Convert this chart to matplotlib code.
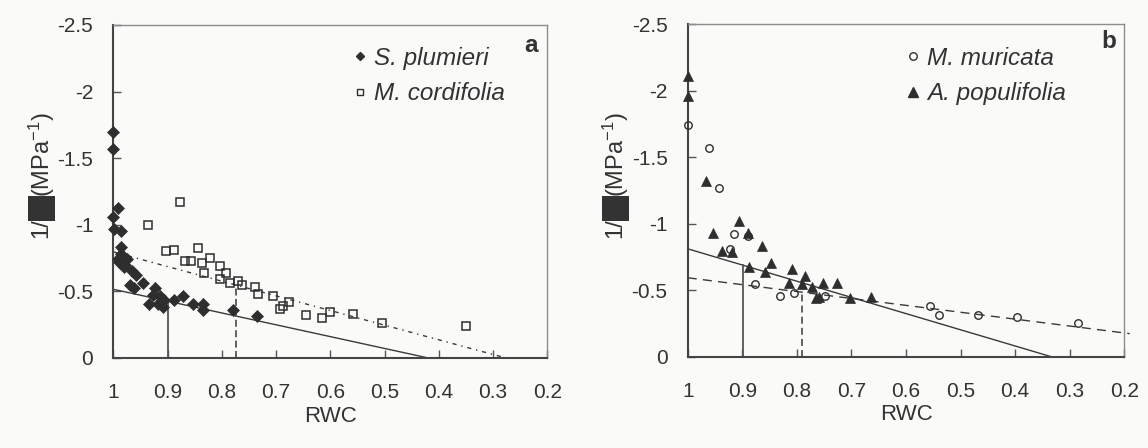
import matplotlib
matplotlib.use("Agg")
import matplotlib.pyplot as plt
from matplotlib.lines import Line2D
from matplotlib.patches import Rectangle

plt.rcParams["font.family"] = ["Liberation Sans", "DejaVu Sans"]
plt.rcParams["mathtext.fontset"] = "custom"
plt.rcParams["mathtext.rm"] = "Liberation Sans"
plt.rcParams["mathtext.it"] = "Liberation Sans:italic"
plt.rcParams["lines.scale_dashes"] = False

# ---- data: relative water content vs. inverse water potential (MPa^-1) ----
sp_rwc = [1.000, 1.000, 0.992, 1.000, 0.998, 0.985, 0.985, 0.985, 0.992, 0.975,
          0.985, 0.980, 0.990, 0.978, 0.966, 0.958, 0.970, 0.962, 0.945, 0.923,
          0.926, 0.914, 0.934, 0.918, 0.908, 0.906, 0.889, 0.872, 0.854, 0.834,
          0.834, 0.780, 0.735]
sp_inv = [-1.694, -1.565, -1.125, -1.055, -0.965, -0.955, -0.834, -0.780, -0.742, -0.745,
          -0.710, -0.685, -0.720, -0.700, -0.651, -0.620, -0.546, -0.520, -0.565, -0.520,
          -0.470, -0.460, -0.403, -0.400, -0.380, -0.430, -0.430, -0.460, -0.400, -0.400,
          -0.360, -0.358, -0.313]

mc_rwc = [0.936, 0.877, 0.902, 0.888, 0.844, 0.867, 0.857, 0.836, 0.822, 0.833,
          0.803, 0.792, 0.803, 0.784, 0.770, 0.762, 0.739, 0.734, 0.706, 0.693,
          0.687, 0.676, 0.645, 0.615, 0.600, 0.558, 0.504, 0.350]
mc_inv = [-1.000, -1.170, -0.800, -0.810, -0.826, -0.727, -0.727, -0.714, -0.747, -0.634,
          -0.689, -0.634, -0.590, -0.564, -0.574, -0.546, -0.533, -0.480, -0.466, -0.363,
          -0.390, -0.420, -0.323, -0.298, -0.340, -0.330, -0.263, -0.240]

mm_rwc = [1.000, 0.961, 0.942, 0.915, 0.889, 0.922, 0.877, 0.831, 0.806, 0.749,
          0.556, 0.540, 0.468, 0.396, 0.285]
mm_inv = [-1.742, -1.574, -1.268, -0.920, -0.907, -0.810, -0.549, -0.459, -0.481, -0.459,
          -0.381, -0.313, -0.313, -0.301, -0.256]

ap_rwc = [1.000, 1.000, 0.966, 0.953, 0.937, 0.918, 0.906, 0.889, 0.887, 0.864,
          0.848, 0.858, 0.809, 0.814, 0.785, 0.790, 0.772, 0.752, 0.727, 0.765,
          0.760, 0.703, 0.665]
ap_inv = [-2.110, -1.960, -1.321, -0.932, -0.797, -0.785, -1.023, -0.928, -0.677, -0.832,
          -0.707, -0.639, -0.659, -0.552, -0.609, -0.544, -0.526, -0.552, -0.552, -0.439,
          -0.447, -0.439, -0.447]

# linear fits of the post-turgor-loss region: 1/psi = a + b * RWC, drawn over [x_from, x_to]
fit_sp = dict(a=0.375, b=-0.889, x_from=1.0, x_to=0.422)
fit_mc = dict(a=0.306, b=-1.101, x_from=1.0, x_to=0.278)
fit_ap = dict(a=0.407, b=-1.219, x_from=1.0, x_to=0.334)
fit_mm = dict(a=-0.075, b=-0.519, x_from=1.0, x_to=0.19)

# RWC at turgor loss point
tlp_sp, tlp_mc = 0.90, 0.773
tlp_ap, tlp_mm = 0.898, 0.79

x_ticks = [1, 0.9, 0.8, 0.7, 0.6, 0.5, 0.4, 0.3, 0.2]
x_tick_labels = ["1", "0.9", "0.8", "0.7", "0.6", "0.5", "0.4", "0.3", "0.2"]
y_ticks = [0, -0.5, -1, -1.5, -2, -2.5]
y_tick_labels = ["0", "-0.5", "-1", "-1.5", "-2", "-2.5"]

BG = "#fafaf8"
INK = "#2e2e2e"
LINE = "#3a3a3a"

W, H = 1148, 448
fig = plt.figure(figsize=(W / 100, H / 100), dpi=100, facecolor=BG)


def px_axes(l, r, t, b):
    return [l / W, (H - b) / H, (r - l) / W, (b - t) / H]


ax_a = fig.add_axes(px_axes(113.3, 547.3, 25, 357.7), facecolor=BG)
ax_b = fig.add_axes(px_axes(687.7, 1124.3, 24.5, 356.7), facecolor=BG)


def style_axes(ax):
    ax.set_xlim(1, 0.2)
    ax.set_ylim(0, -2.5)
    ax.set_xticks(x_ticks)
    ax.set_xticklabels(x_tick_labels)
    ax.set_yticks(y_ticks)
    ax.set_yticklabels(y_tick_labels)
    ax.tick_params(axis="both", direction="in", length=5.5, width=1.0,
                   color="#555555", labelcolor="#333333", labelsize=15,
                   top=False, right=False)
    ax.tick_params(axis="x", pad=18.5)
    ax.tick_params(axis="y", pad=14.5)
    for s in ("left", "bottom"):
        ax.spines[s].set_color("#444444")
        ax.spines[s].set_linewidth(1.5)
    for s in ("top", "right"):
        ax.spines[s].set_color("#8c8c8c")
        ax.spines[s].set_linewidth(1.0)
    ax.set_xlabel("RWC", fontsize=16, color="#333333", va="center")
    ax.xaxis.set_label_coords(0.5, -(416 - 357.7) / 332.7)


def draw_fit(ax, fit, **kw):
    xs = [fit["x_from"], fit["x_to"]]
    ys = [fit["a"] + fit["b"] * x for x in xs]
    ax.plot(xs, ys, color=LINE, lw=1.0, clip_on=False, zorder=2, **kw)


def draw_tlp(ax, x, fit, **kw):
    ax.plot([x, x], [0, fit["a"] + fit["b"] * x], color="#555555", lw=1.3, zorder=2, **kw)


def y_label(x_off):
    cx = (x_off + 41.5) / W
    fig.text(cx, (H - 238) / H, "1/", rotation=90, ha="center", va="bottom",
             fontsize=17, color="#333333")
    fig.add_artist(Rectangle(((x_off + 27.5) / W, (H - 221) / H), 27.5 / W, 24.7 / H,
                             transform=fig.transFigure, facecolor="#333333",
                             edgecolor="none"))
    fig.text(cx, (H - 197) / H, r"(MPa$^{\mathregular{-1}}$)", rotation=90,
             ha="center", va="bottom", fontsize=17, color="#333333")


def legend(ax, handles, labels, left_px):
    leg = ax.legend(handles, labels, loc="upper left",
                    bbox_to_anchor=(left_px / W, (H - 47) / H),
                    bbox_transform=fig.transFigure, frameon=False,
                    prop=dict(size=17.5, style="italic"), borderpad=0,
                    borderaxespad=0, handlelength=0.7, handletextpad=0.25,
                    labelspacing=0.5)
    for t in leg.get_texts():
        t.set_color("#333333")
    return leg


# ---- panel a ----
style_axes(ax_a)
draw_fit(ax_a, fit_sp, ls="-")
draw_fit(ax_a, fit_mc, ls=(0, (3, 3.5, 1, 3.5)))
draw_tlp(ax_a, tlp_sp, fit_sp, ls="-")
draw_tlp(ax_a, tlp_mc, fit_mc, ls=(0, (5, 2.5)))
ax_a.plot(sp_rwc, sp_inv, ls="none", marker="D", ms=6.6, mfc=INK, mec=INK,
          mew=0.5, zorder=3, clip_on=False)
ax_a.plot(mc_rwc, mc_inv, ls="none", marker="s", ms=6.0, mfc="none", mec=INK,
          mew=1.1, zorder=3, clip_on=False)
h_a = [Line2D([], [], ls="none", marker="D", ms=4.2, mfc=INK, mec=INK),
       Line2D([], [], ls="none", marker="s", ms=4.6, mfc="none", mec=INK, mew=1.0)]
legend(ax_a, h_a, ["S. plumieri", "M. cordifolia"], 351)
ax_a.text(531 / W, (H - 45) / H, "a", transform=fig.transFigure, ha="center",
          va="center", fontsize=17.5, fontweight="bold", color="#333333")
y_label(0)

# ---- panel b ----
style_axes(ax_b)
draw_fit(ax_b, fit_ap, ls="-")
draw_fit(ax_b, fit_mm, ls=(0, (6.5, 4.5)))
draw_tlp(ax_b, tlp_ap, fit_ap, ls="-")
draw_tlp(ax_b, tlp_mm, fit_mm, ls=(0, (5, 3)))
ax_b.plot(mm_rwc, mm_inv, ls="none", marker="o", ms=5.4, mfc="none", mec=INK,
          mew=1.0, zorder=3, clip_on=False)
ax_b.plot(ap_rwc, ap_inv, ls="none", marker="^", ms=7.2, mfc=INK, mec=INK,
          mew=0.5, zorder=3, clip_on=False)
h_b = [Line2D([], [], ls="none", marker="o", ms=5.4, mfc="none", mec=INK, mew=1.0),
       Line2D([], [], ls="none", marker="^", ms=7.2, mfc=INK, mec=INK)]
legend(ax_b, h_b, ["M. muricata", "A. populifolia"], 904)
ax_b.text(1109 / W, (H - 42) / H, "b", transform=fig.transFigure, ha="center",
          va="center", fontsize=17.5, fontweight="bold", color="#333333")
y_label(574)

fig.savefig("out.png", dpi=100, facecolor=BG)
